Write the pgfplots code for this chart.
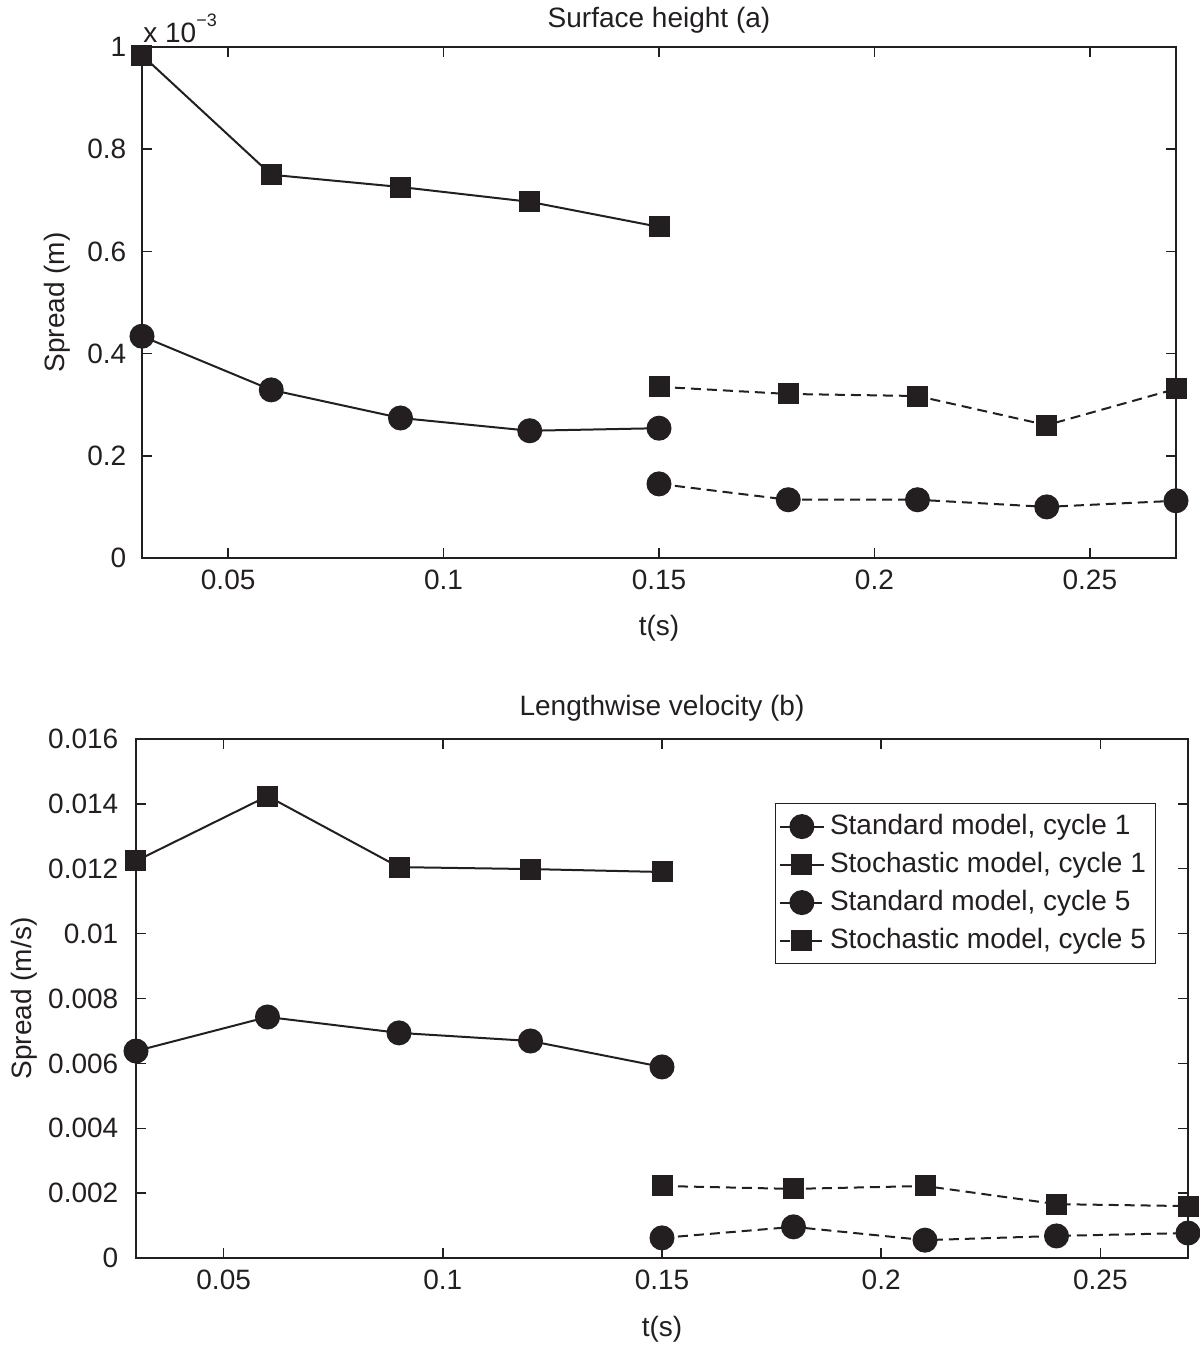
\documentclass[border=0pt]{standalone}
\usepackage{fontspec}
\setmainfont{Liberation Sans}
\usepackage{pgfplots}
\pgfplotsset{compat=1.18}
\definecolor{ink}{RGB}{35,31,32}
\newcommand{\fs}{\fontsize{14pt}{16.8pt}\selectfont}
\pgfplotsset{
  common/.style={
    scale only axis,
    clip mode=individual,
    xmin=0.03, xmax=0.27,
    xtick={0.05,0.1,0.15,0.2,0.25},
    xticklabels={0.05,0.1,0.15,0.2,0.25},
    scaled x ticks=false, scaled y ticks=false,
    /pgf/number format/assume math mode=true,
    axis line style={ink, line width=0.75pt},
    tick style={ink, line width=0.75pt},
    major tick length=5pt,
    tick align=inside,
    ticklabel style={font=\fs, text=ink},
    label style={font=\fs, text=ink},
    title style={font=\fs, text=ink},
    xticklabel style={yshift=-1pt},
    yticklabel style={xshift=-3pt},
    legend image code/.code={\draw[mark repeat=2, mark phase=2, #1] plot coordinates {(0cm,0cm) (0.38cm,0cm) (0.76cm,0cm)};},
  },
  c1/.style={ink, line width=1pt, solid},
  c5/.style={ink, line width=1pt, dash pattern=on 5pt off 3pt},
  circ/.style={mark=*, mark size=5.75pt, mark options={solid, fill=ink, draw=ink}},
  sq/.style={mark=square*, mark size=4.75pt, mark options={solid, fill=ink, draw=ink}},
}
\begin{document}
\fs
\begin{tikzpicture}
\useasboundingbox (0,0) rectangle (600pt,675.5pt);
% top axis
\begin{axis}[common,
  at={(71pt,396.5pt)}, anchor=south west,
  width=517pt, height=255.5pt,
  ymin=0, ymax=1,
  ytick={0,0.2,0.4,0.6,0.8,1},
  yticklabels={0,0.2,0.4,0.6,0.8,1},
  title={Surface height (a)},
  title style={at={(axis description cs:0.5,1.0382)}, anchor=base, yshift=-6pt},
  xlabel={t(s)},
  xlabel style={at={(axis description cs:0.5,-0.1507)}, anchor=base},
  ylabel={Spread (m)},
  ylabel style={at={(axis description cs:-0.0754,0.5)}, anchor=base, rotate=0},
]
\addplot[c1, circ] coordinates {(0.03,0.434) (0.06,0.329) (0.09,0.274) (0.12,0.249) (0.15,0.254)};
\addplot[c1, sq] coordinates {(0.03,0.984) (0.06,0.750) (0.09,0.726) (0.12,0.697) (0.15,0.648)};
\addplot[c5, circ] coordinates {(0.15,0.145) (0.18,0.114) (0.21,0.114) (0.24,0.100) (0.27,0.112)};
\addplot[c5, sq] coordinates {(0.15,0.335) (0.18,0.321) (0.21,0.317) (0.24,0.260) (0.27,0.331)};
\node[anchor=base west, inner sep=0pt, text=ink, font=\fs] at ([xshift=0.5pt,yshift=2pt]rel axis cs:0,1) {x 10\raisebox{8pt}{\fontsize{9pt}{10pt}\selectfont \char"2212 3}};
\end{axis}
% bottom axis
\begin{axis}[common,
  at={(68pt,46.5pt)}, anchor=south west,
  width=526pt, height=259.5pt,
  ymin=0, ymax=0.016,
  ytick={0,0.002,0.004,0.006,0.008,0.01,0.012,0.014,0.016},
  yticklabels={0,0.002,0.004,0.006,0.008,0.01,0.012,0.014,0.016},
  yticklabel style={xshift=-1pt},
  title={Lengthwise velocity (b)},
  title style={at={(axis description cs:0.5,1.0462)}, anchor=base, yshift=-6pt},
  xlabel={t(s)},
  xlabel style={at={(axis description cs:0.5,-0.1522)}, anchor=base},
  ylabel={Spread (m/s)},
  ylabel style={at={(axis description cs:-0.0998,0.5)}, anchor=base, rotate=0},
  legend style={at={(0.9696,0.8767)}, anchor=north east, draw=ink, line width=0.6pt,
    font=\fs, text=ink,
    nodes={text height=10.5pt, text depth=3pt, inner sep=2.75pt},
    inner xsep=2pt, inner ysep=2pt},
  legend cell align=left,
]
\addplot[c1, circ] coordinates {(0.03,0.00638) (0.06,0.00743) (0.09,0.00694) (0.12,0.00669) (0.15,0.00589)};
\addlegendentry{Standard model, cycle 1}
\addplot[c1, sq] coordinates {(0.03,0.01224) (0.06,0.01424) (0.09,0.01205) (0.12,0.01199) (0.15,0.01190)};
\addlegendentry{Stochastic model, cycle 1}
\addplot[c5, circ] coordinates {(0.15,0.00062) (0.18,0.00096) (0.21,0.00055) (0.24,0.00068) (0.27,0.00077)};
\addlegendentry{Standard model, cycle 5}
\addplot[c5, sq] coordinates {(0.15,0.00222) (0.18,0.00213) (0.21,0.00222) (0.24,0.00166) (0.27,0.00160)};
\addlegendentry{Stochastic model, cycle 5}
\end{axis}
\end{tikzpicture}
\end{document}
